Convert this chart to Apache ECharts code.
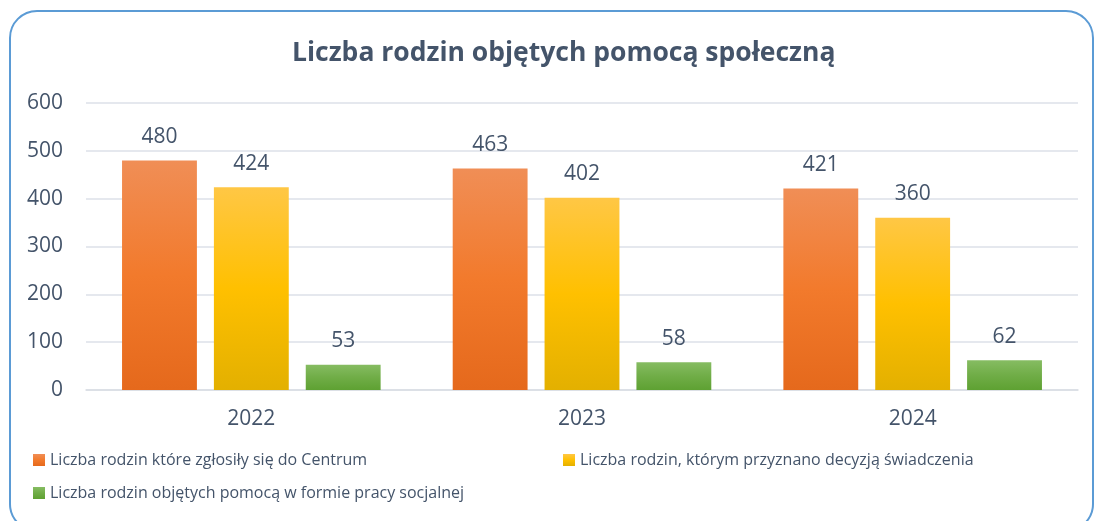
<!DOCTYPE html>
<html>
<head>
<meta charset="utf-8">
<script src="https://cdn.jsdelivr.net/npm/echarts@6/dist/echarts.min.js"></script>
<style>
  html, body { margin: 0; padding: 0; background: #fff; overflow: hidden; }
  .frame {
    position: absolute; left: 9px; top: 10px; width: 1085px; height: 522px;
    border: 2px solid #5b9bd5; border-radius: 28px; box-sizing: border-box;
  }
  #chart { position: absolute; left: 0; top: 0; width: 1097px; height: 521px; }
</style>
</head>
<body>
<div class="frame"></div>
<div id="chart"></div>
<script>
const title = 'Liczba rodzin objętych pomocą społeczną'
const years = ['2022', '2023', '2024']
const seriesNames = [
  'Liczba rodzin które zgłosiły się do Centrum',
  'Liczba rodzin, którym przyznano decyzją świadczenia',
  'Liczba rodzin objętych pomocą w formie pracy socjalnej'
]
const zgloszone = [480, 463, 421]
const przyznane = [424, 402, 360]
const pracaSocjalna = [53, 58, 62]

const textColor = '#44546a'
const fontFamily = '"Open Sans", "Noto Sans", sans-serif'

// gradienty jak w Excelu (góra jaśniejsza)
function grad(top, mid, bottom) {
  return new echarts.graphic.LinearGradient(0, 0, 0, 1, [
    { offset: 0, color: top },
    { offset: 0.5, color: mid },
    { offset: 1, color: bottom }
  ])
}
const colors = [
  grad('#f08e56', '#f27a2c', '#e5691c'),
  grad('#ffc745', '#ffc000', '#e3b000'),
  grad('#86bc62', '#70ad47', '#5ea132')
]

const chart = echarts.init(document.getElementById('chart'))

function barSeries(name, data, color) {
  return {
    name: name,
    type: 'bar',
    data: data,
    barGap: '22.7%',
    barCategoryGap: '21.8%',
    itemStyle: { color: color },
    label: {
      show: true,
      position: 'top',
      distance: 13,
      color: textColor,
      fontSize: 21,
      fontFamily: fontFamily
    }
  }
}

const legendText = { color: textColor, fontSize: 16, fontFamily: fontFamily }
const legendBase = { itemWidth: 12, itemHeight: 12, padding: 0, textStyle: legendText, icon: 'rect' }

chart.setOption({
  animation: false,
  title: {
    text: title,
    left: 287,
    top: 35,
    textStyle: { color: textColor, fontSize: 26.5, fontWeight: 'bold', fontFamily: fontFamily }
  },
  legend: [
    Object.assign({ data: [seriesNames[0]], left: 33, top: 452 }, legendBase),
    Object.assign({ data: [seriesNames[1]], left: 563, top: 452 }, legendBase),
    Object.assign({ data: [seriesNames[2]], left: 33, top: 485 }, legendBase)
  ],
  grid: { left: 86, right: 19, top: 103, bottom: 131, containLabel: false },
  xAxis: {
    type: 'category',
    data: years,
    axisTick: { show: false },
    axisLine: { lineStyle: { color: '#d9dde4', width: 1.5 } },
    axisLabel: { color: textColor, fontSize: 21, fontFamily: fontFamily, margin: 19 }
  },
  yAxis: {
    type: 'value',
    min: 0,
    max: 600,
    interval: 100,
    axisLine: { show: false },
    axisTick: { show: false },
    axisLabel: { color: textColor, fontSize: 21, fontFamily: fontFamily, margin: 23 },
    splitLine: { lineStyle: { color: '#dde1e8', width: 1.5 } }
  },
  series: [
    barSeries(seriesNames[0], zgloszone, colors[0]),
    barSeries(seriesNames[1], przyznane, colors[1]),
    barSeries(seriesNames[2], pracaSocjalna, colors[2])
  ]
})
</script>
</body>
</html>
